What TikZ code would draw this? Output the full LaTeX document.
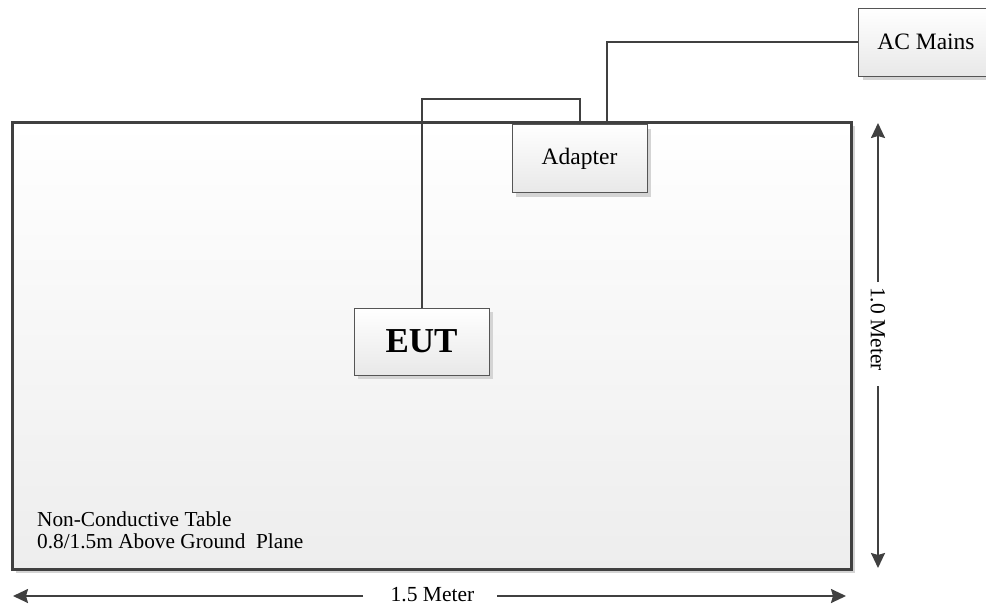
\documentclass[tikz,border=0pt]{standalone}
\usepackage{fontspec}
\setmainfont{Liberation Serif}
\usetikzlibrary{arrows.meta,shadows}
\definecolor{linec}{HTML}{404040}
\definecolor{boxline}{HTML}{555555}
\definecolor{shadowc}{HTML}{D4D4D4}
\tikzset{
  devbox/.style={draw=boxline, line width=1pt, top color=white, bottom color=black!9,
    minimum width=135pt, minimum height=68pt, inner sep=0pt,
    drop shadow={shadow xshift=4pt, shadow yshift=-4pt, fill=shadowc, opacity=1},
    font=\fontsize{23.5}{26}\selectfont},
  wire/.style={draw=linec, line width=2pt},
  dim/.style={draw=linec, line width=2pt, -{Stealth[length=15pt,width=14pt,inset=2pt]}},
  dimlabel/.style={inner sep=0pt, text depth=0pt, font=\fontsize{21.5}{24}\selectfont}
}
\begin{document}
\begin{tikzpicture}[x=1pt,y=-1pt]
\path[use as bounding box, clip] (0,0) rectangle (986,605);
\fill[white] (0,0) rectangle (986,605);
% table
\fill[shadowc] (16,126) rectangle (855,573);
\draw[draw=linec, line width=3pt, top color=white, bottom color=black!7] (12,122) rectangle (851,569);
\node[anchor=base west, align=left, inner sep=0pt, font=\fontsize{21.3}{22}\selectfont] (tbl) at (37,548)
  {Non-Conductive Table\\0.8/1.5m Above Ground\ \ Plane};
% devices
\node[devbox] (ad) at (579.5,158.5) {Adapter};
\node[devbox] (ac) at (926,42) {AC Mains};
\node[devbox, minimum height=67pt, font=\fontsize{35}{38}\bfseries\selectfont] (eut) at (421.5,341.5) {EUT};
% wires
\draw[wire] (ac.west) -| ([xshift=27.5pt]ad.north);
\draw[wire] ([xshift=0.5pt]ad.north) -- ++(0,-25) -| (eut.north);
% dimensions
\node[dimlabel, anchor=base] (wlab) at (432.5,601) {1.5 Meter};
\coordinate (wl) at (13,596);
\coordinate (wr) at (846,596);
\draw[dim] (363,596) -- (wl);
\draw[dim] (497,596) -- (wr);
\node[dimlabel, rotate=-90] (hlab) at (878,329) {1.0 Meter};
\coordinate (ht) at (878,123);
\coordinate (hb) at (878,568);
\draw[dim] (878,282) -- (ht);
\draw[dim] (878,386) -- (hb);
\end{tikzpicture}
\end{document}
